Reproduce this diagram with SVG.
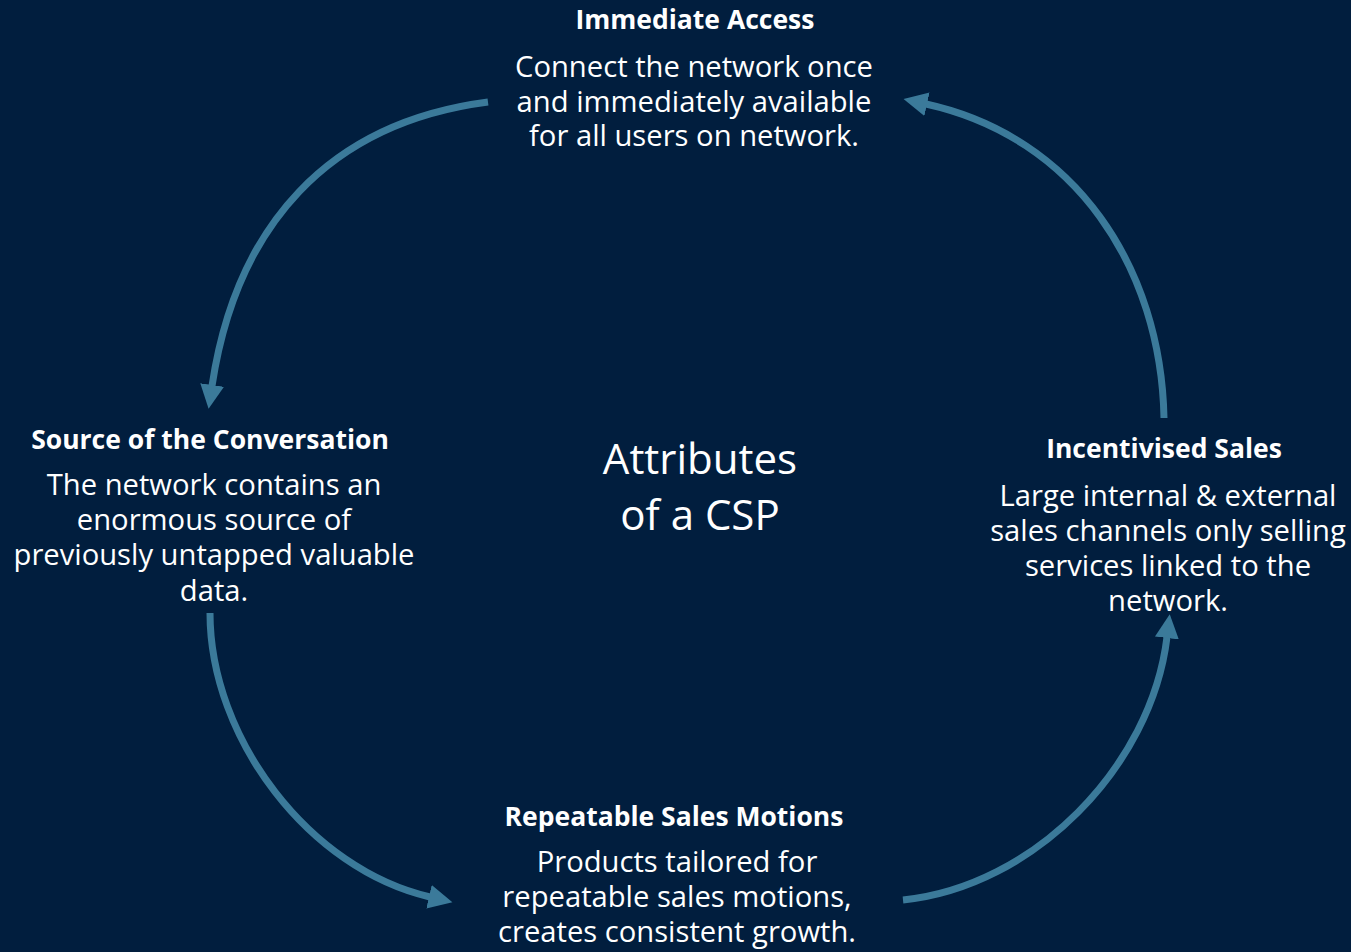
<svg xmlns="http://www.w3.org/2000/svg" width="1351" height="952" viewBox="0 0 1351 952">
  <style>
    .title { font-family: "Open Sans", "Noto Sans", "Liberation Sans", sans-serif; font-weight: 700; font-size: 26.5px; fill: #FFFFFF; text-anchor: middle; }
    .body { font-family: "Open Sans", "Noto Sans", "Liberation Sans", sans-serif; font-weight: 400; font-size: 29.2px; fill: #FFFFFF; text-anchor: middle; }
    .center { font-family: "Open Sans", "Noto Sans", "Liberation Sans", sans-serif; font-weight: 400; font-size: 42px; fill: #FFFFFF; text-anchor: middle; }
    .arc { fill: none; stroke: #3B7A9A; stroke-width: 7; marker-end: url(#head); }
  </style>
  <defs>
    <marker id="head" markerUnits="userSpaceOnUse" viewBox="0 -13 25 26" markerWidth="25" markerHeight="26" refX="1" refY="0" orient="auto">
      <path d="M0,-12 L24,0 L0,12 Z" fill="#3B7A9A"/>
    </marker>
  </defs>
  <rect x="0" y="0" width="1351" height="952" fill="#011E3E"/>

  <g id="connectors">
    <path class="arc" d="M488,102 C328,122.8 236,226 212,386"/>
    <path class="arc" d="M210,613 C210,739 310,869.4 430,897"/>
    <path class="arc" d="M903,900 C1033,887 1151.4,767 1167,637"/>
    <path class="arc" d="M1164,418 C1161,268 1076,137 926,104"/>
  </g>

  <g id="center">
    <text class="center" x="700" y="474">Attributes</text>
    <text class="center" x="700" y="530">of a CSP</text>
  </g>

  <g id="immediate-access">
    <text class="title" x="695" y="29">Immediate Access</text>
    <text class="body" x="694" y="77">Connect the network once</text>
    <text class="body" x="694" y="112">and immediately available</text>
    <text class="body" x="694" y="146">for all users on network.</text>
  </g>

  <g id="source-of-conversation">
    <text class="title" x="210" y="449">Source of the Conversation</text>
    <text class="body" x="214" y="495">The network contains an</text>
    <text class="body" x="214" y="530">enormous source of</text>
    <text class="body" x="214" y="565">previously untapped valuable</text>
    <text class="body" x="214" y="601">data.</text>
  </g>

  <g id="incentivised-sales">
    <text class="title" x="1164" y="458">Incentivised Sales</text>
    <text class="body" x="1168" y="506">Large internal &amp; external</text>
    <text class="body" x="1168" y="541">sales channels only selling</text>
    <text class="body" x="1168" y="576">services linked to the</text>
    <text class="body" x="1168" y="611">network.</text>
  </g>

  <g id="repeatable-sales">
    <text class="title" x="674" y="826">Repeatable Sales Motions</text>
    <text class="body" x="677" y="872">Products tailored for</text>
    <text class="body" x="677" y="907">repeatable sales motions,</text>
    <text class="body" x="677" y="942">creates consistent growth.</text>
  </g>
</svg>
